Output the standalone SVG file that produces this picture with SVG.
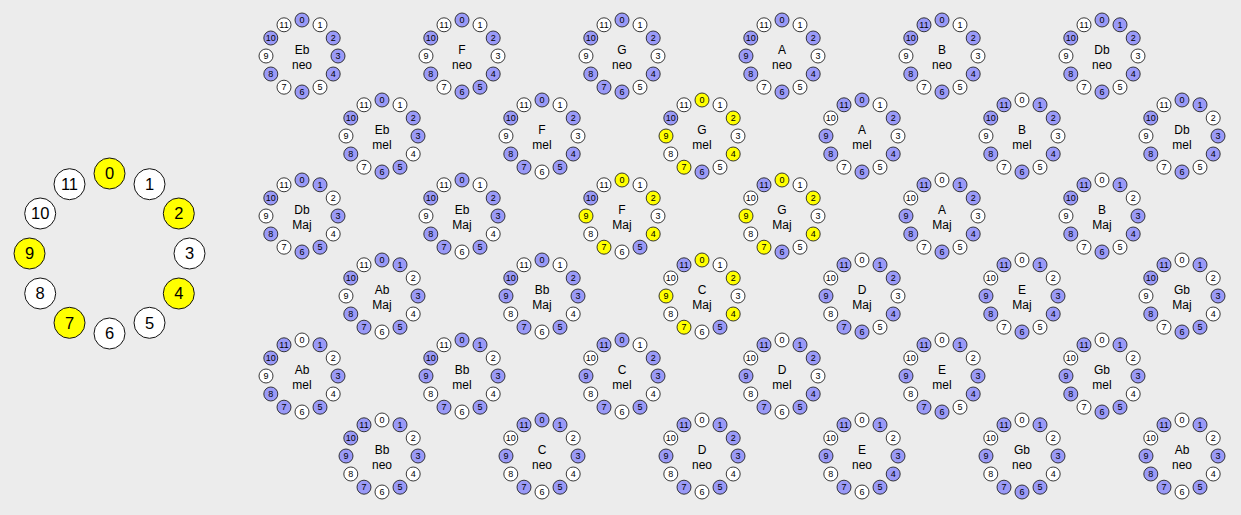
<svg xmlns="http://www.w3.org/2000/svg" xmlns:xlink="http://www.w3.org/1999/xlink" width="1241" height="515" viewBox="0 0 1241 515">
<style>
text{font-family:"Liberation Sans",Arial,sans-serif;text-anchor:middle;fill:#000}
.big circle{stroke:#111;stroke-width:1}
.big text{font-size:16.5px}
.c text{font-size:9px}
.c text.l{font-size:12px}
use{stroke:#222;stroke-width:0.9}
.b{fill:#9a9af8}.w{fill:#fff}.y{fill:#ffff00}
</style>
<defs>
<circle id="k0" cx="0" cy="-36" r="7"/>
<circle id="k1" cx="18" cy="-31.2" r="7"/>
<circle id="k2" cx="31.2" cy="-18" r="7"/>
<circle id="k3" cx="36" cy="0" r="7"/>
<circle id="k4" cx="31.2" cy="18" r="7"/>
<circle id="k5" cx="18" cy="31.2" r="7"/>
<circle id="k6" cx="0" cy="36" r="7"/>
<circle id="k7" cx="-18" cy="31.2" r="7"/>
<circle id="k8" cx="-31.2" cy="18" r="7"/>
<circle id="k9" cx="-36" cy="0" r="7"/>
<circle id="k10" cx="-31.2" cy="-18" r="7"/>
<circle id="k11" cx="-18" cy="-31.2" r="7"/>
</defs>
<rect width="1241" height="515" fill="#ececec"/>

<g id="pitch-circle" class="big">
<g id="pc0"><circle cx="109.5" cy="173.5" r="15.5" class="y"/><text x="109.5" y="179.4">0</text></g>
<g id="pc1"><circle cx="149.5" cy="184.2" r="15.5" class="w"/><text x="149.5" y="190.1">1</text></g>
<g id="pc2"><circle cx="178.8" cy="213.5" r="15.5" class="y"/><text x="178.8" y="219.4">2</text></g>
<g id="pc3"><circle cx="189.5" cy="253.5" r="15.5" class="w"/><text x="189.5" y="259.4">3</text></g>
<g id="pc4"><circle cx="178.8" cy="293.5" r="15.5" class="y"/><text x="178.8" y="299.4">4</text></g>
<g id="pc5"><circle cx="149.5" cy="322.8" r="15.5" class="w"/><text x="149.5" y="328.7">5</text></g>
<g id="pc6"><circle cx="109.5" cy="333.5" r="15.5" class="w"/><text x="109.5" y="339.4">6</text></g>
<g id="pc7"><circle cx="69.5" cy="322.8" r="15.5" class="y"/><text x="69.5" y="328.7">7</text></g>
<g id="pc8"><circle cx="40.2" cy="293.5" r="15.5" class="w"/><text x="40.2" y="299.4">8</text></g>
<g id="pc9"><circle cx="29.5" cy="253.5" r="15.5" class="y"/><text x="29.5" y="259.4">9</text></g>
<g id="pc10"><circle cx="40.2" cy="213.5" r="15.5" class="w"/><text x="40.2" y="219.4">10</text></g>
<g id="pc11"><circle cx="69.5" cy="184.2" r="15.5" class="w"/><text x="69.5" y="190.1">11</text></g>
</g>

<g id="eb-neo" class="c" transform="translate(302,56)"><use href="#k0" class="b"/><use href="#k1" class="w"/><use href="#k2" class="b"/><use href="#k3" class="b"/><use href="#k4" class="b"/><use href="#k5" class="w"/><use href="#k6" class="b"/><use href="#k7" class="w"/><use href="#k8" class="b"/><use href="#k9" class="w"/><use href="#k10" class="b"/><use href="#k11" class="w"/><text x="0" y="-33">0</text><text x="18" y="-28.2">1</text><text x="31.2" y="-15">2</text><text x="36" y="3">3</text><text x="31.2" y="21">4</text><text x="18" y="34.2">5</text><text x="0" y="39">6</text><text x="-18" y="34.2">7</text><text x="-31.2" y="21">8</text><text x="-36" y="3">9</text><text x="-31.2" y="-15">10</text><text x="-18" y="-28.2">11</text><text class="l" x="0" y="-2">Eb</text><text class="l" x="0" y="13">neo</text></g>
<g id="f-neo" class="c" transform="translate(462,56)"><use href="#k0" class="b"/><use href="#k1" class="w"/><use href="#k2" class="b"/><use href="#k3" class="w"/><use href="#k4" class="b"/><use href="#k5" class="b"/><use href="#k6" class="b"/><use href="#k7" class="w"/><use href="#k8" class="b"/><use href="#k9" class="w"/><use href="#k10" class="b"/><use href="#k11" class="w"/><text x="0" y="-33">0</text><text x="18" y="-28.2">1</text><text x="31.2" y="-15">2</text><text x="36" y="3">3</text><text x="31.2" y="21">4</text><text x="18" y="34.2">5</text><text x="0" y="39">6</text><text x="-18" y="34.2">7</text><text x="-31.2" y="21">8</text><text x="-36" y="3">9</text><text x="-31.2" y="-15">10</text><text x="-18" y="-28.2">11</text><text class="l" x="0" y="-2">F</text><text class="l" x="0" y="13">neo</text></g>
<g id="g-neo" class="c" transform="translate(622,56)"><use href="#k0" class="b"/><use href="#k1" class="w"/><use href="#k2" class="b"/><use href="#k3" class="w"/><use href="#k4" class="b"/><use href="#k5" class="w"/><use href="#k6" class="b"/><use href="#k7" class="b"/><use href="#k8" class="b"/><use href="#k9" class="w"/><use href="#k10" class="b"/><use href="#k11" class="w"/><text x="0" y="-33">0</text><text x="18" y="-28.2">1</text><text x="31.2" y="-15">2</text><text x="36" y="3">3</text><text x="31.2" y="21">4</text><text x="18" y="34.2">5</text><text x="0" y="39">6</text><text x="-18" y="34.2">7</text><text x="-31.2" y="21">8</text><text x="-36" y="3">9</text><text x="-31.2" y="-15">10</text><text x="-18" y="-28.2">11</text><text class="l" x="0" y="-2">G</text><text class="l" x="0" y="13">neo</text></g>
<g id="a-neo" class="c" transform="translate(782,56)"><use href="#k0" class="b"/><use href="#k1" class="w"/><use href="#k2" class="b"/><use href="#k3" class="w"/><use href="#k4" class="b"/><use href="#k5" class="w"/><use href="#k6" class="b"/><use href="#k7" class="w"/><use href="#k8" class="b"/><use href="#k9" class="b"/><use href="#k10" class="b"/><use href="#k11" class="w"/><text x="0" y="-33">0</text><text x="18" y="-28.2">1</text><text x="31.2" y="-15">2</text><text x="36" y="3">3</text><text x="31.2" y="21">4</text><text x="18" y="34.2">5</text><text x="0" y="39">6</text><text x="-18" y="34.2">7</text><text x="-31.2" y="21">8</text><text x="-36" y="3">9</text><text x="-31.2" y="-15">10</text><text x="-18" y="-28.2">11</text><text class="l" x="0" y="-2">A</text><text class="l" x="0" y="13">neo</text></g>
<g id="b-neo" class="c" transform="translate(942,56)"><use href="#k0" class="b"/><use href="#k1" class="w"/><use href="#k2" class="b"/><use href="#k3" class="w"/><use href="#k4" class="b"/><use href="#k5" class="w"/><use href="#k6" class="b"/><use href="#k7" class="w"/><use href="#k8" class="b"/><use href="#k9" class="w"/><use href="#k10" class="b"/><use href="#k11" class="b"/><text x="0" y="-33">0</text><text x="18" y="-28.2">1</text><text x="31.2" y="-15">2</text><text x="36" y="3">3</text><text x="31.2" y="21">4</text><text x="18" y="34.2">5</text><text x="0" y="39">6</text><text x="-18" y="34.2">7</text><text x="-31.2" y="21">8</text><text x="-36" y="3">9</text><text x="-31.2" y="-15">10</text><text x="-18" y="-28.2">11</text><text class="l" x="0" y="-2">B</text><text class="l" x="0" y="13">neo</text></g>
<g id="db-neo" class="c" transform="translate(1102,56)"><use href="#k0" class="b"/><use href="#k1" class="b"/><use href="#k2" class="b"/><use href="#k3" class="w"/><use href="#k4" class="b"/><use href="#k5" class="w"/><use href="#k6" class="b"/><use href="#k7" class="w"/><use href="#k8" class="b"/><use href="#k9" class="w"/><use href="#k10" class="b"/><use href="#k11" class="w"/><text x="0" y="-33">0</text><text x="18" y="-28.2">1</text><text x="31.2" y="-15">2</text><text x="36" y="3">3</text><text x="31.2" y="21">4</text><text x="18" y="34.2">5</text><text x="0" y="39">6</text><text x="-18" y="34.2">7</text><text x="-31.2" y="21">8</text><text x="-36" y="3">9</text><text x="-31.2" y="-15">10</text><text x="-18" y="-28.2">11</text><text class="l" x="0" y="-2">Db</text><text class="l" x="0" y="13">neo</text></g>

<g id="eb-mel" class="c" transform="translate(382,136)"><use href="#k0" class="b"/><use href="#k1" class="w"/><use href="#k2" class="b"/><use href="#k3" class="b"/><use href="#k4" class="w"/><use href="#k5" class="b"/><use href="#k6" class="b"/><use href="#k7" class="w"/><use href="#k8" class="b"/><use href="#k9" class="w"/><use href="#k10" class="b"/><use href="#k11" class="w"/><text x="0" y="-33">0</text><text x="18" y="-28.2">1</text><text x="31.2" y="-15">2</text><text x="36" y="3">3</text><text x="31.2" y="21">4</text><text x="18" y="34.2">5</text><text x="0" y="39">6</text><text x="-18" y="34.2">7</text><text x="-31.2" y="21">8</text><text x="-36" y="3">9</text><text x="-31.2" y="-15">10</text><text x="-18" y="-28.2">11</text><text class="l" x="0" y="-2">Eb</text><text class="l" x="0" y="13">mel</text></g>
<g id="f-mel" class="c" transform="translate(542,136)"><use href="#k0" class="b"/><use href="#k1" class="w"/><use href="#k2" class="b"/><use href="#k3" class="w"/><use href="#k4" class="b"/><use href="#k5" class="b"/><use href="#k6" class="w"/><use href="#k7" class="b"/><use href="#k8" class="b"/><use href="#k9" class="w"/><use href="#k10" class="b"/><use href="#k11" class="w"/><text x="0" y="-33">0</text><text x="18" y="-28.2">1</text><text x="31.2" y="-15">2</text><text x="36" y="3">3</text><text x="31.2" y="21">4</text><text x="18" y="34.2">5</text><text x="0" y="39">6</text><text x="-18" y="34.2">7</text><text x="-31.2" y="21">8</text><text x="-36" y="3">9</text><text x="-31.2" y="-15">10</text><text x="-18" y="-28.2">11</text><text class="l" x="0" y="-2">F</text><text class="l" x="0" y="13">mel</text></g>
<g id="g-mel" class="c" transform="translate(702,136)"><use href="#k0" class="y"/><use href="#k1" class="w"/><use href="#k2" class="y"/><use href="#k3" class="w"/><use href="#k4" class="y"/><use href="#k5" class="w"/><use href="#k6" class="b"/><use href="#k7" class="y"/><use href="#k8" class="w"/><use href="#k9" class="y"/><use href="#k10" class="b"/><use href="#k11" class="w"/><text x="0" y="-33">0</text><text x="18" y="-28.2">1</text><text x="31.2" y="-15">2</text><text x="36" y="3">3</text><text x="31.2" y="21">4</text><text x="18" y="34.2">5</text><text x="0" y="39">6</text><text x="-18" y="34.2">7</text><text x="-31.2" y="21">8</text><text x="-36" y="3">9</text><text x="-31.2" y="-15">10</text><text x="-18" y="-28.2">11</text><text class="l" x="0" y="-2">G</text><text class="l" x="0" y="13">mel</text></g>
<g id="a-mel" class="c" transform="translate(862,136)"><use href="#k0" class="b"/><use href="#k1" class="w"/><use href="#k2" class="b"/><use href="#k3" class="w"/><use href="#k4" class="b"/><use href="#k5" class="w"/><use href="#k6" class="b"/><use href="#k7" class="w"/><use href="#k8" class="b"/><use href="#k9" class="b"/><use href="#k10" class="w"/><use href="#k11" class="b"/><text x="0" y="-33">0</text><text x="18" y="-28.2">1</text><text x="31.2" y="-15">2</text><text x="36" y="3">3</text><text x="31.2" y="21">4</text><text x="18" y="34.2">5</text><text x="0" y="39">6</text><text x="-18" y="34.2">7</text><text x="-31.2" y="21">8</text><text x="-36" y="3">9</text><text x="-31.2" y="-15">10</text><text x="-18" y="-28.2">11</text><text class="l" x="0" y="-2">A</text><text class="l" x="0" y="13">mel</text></g>
<g id="b-mel" class="c" transform="translate(1022,136)"><use href="#k0" class="w"/><use href="#k1" class="b"/><use href="#k2" class="b"/><use href="#k3" class="w"/><use href="#k4" class="b"/><use href="#k5" class="w"/><use href="#k6" class="b"/><use href="#k7" class="w"/><use href="#k8" class="b"/><use href="#k9" class="w"/><use href="#k10" class="b"/><use href="#k11" class="b"/><text x="0" y="-33">0</text><text x="18" y="-28.2">1</text><text x="31.2" y="-15">2</text><text x="36" y="3">3</text><text x="31.2" y="21">4</text><text x="18" y="34.2">5</text><text x="0" y="39">6</text><text x="-18" y="34.2">7</text><text x="-31.2" y="21">8</text><text x="-36" y="3">9</text><text x="-31.2" y="-15">10</text><text x="-18" y="-28.2">11</text><text class="l" x="0" y="-2">B</text><text class="l" x="0" y="13">mel</text></g>
<g id="db-mel" class="c" transform="translate(1182,136)"><use href="#k0" class="b"/><use href="#k1" class="b"/><use href="#k2" class="w"/><use href="#k3" class="b"/><use href="#k4" class="b"/><use href="#k5" class="w"/><use href="#k6" class="b"/><use href="#k7" class="w"/><use href="#k8" class="b"/><use href="#k9" class="w"/><use href="#k10" class="b"/><use href="#k11" class="w"/><text x="0" y="-33">0</text><text x="18" y="-28.2">1</text><text x="31.2" y="-15">2</text><text x="36" y="3">3</text><text x="31.2" y="21">4</text><text x="18" y="34.2">5</text><text x="0" y="39">6</text><text x="-18" y="34.2">7</text><text x="-31.2" y="21">8</text><text x="-36" y="3">9</text><text x="-31.2" y="-15">10</text><text x="-18" y="-28.2">11</text><text class="l" x="0" y="-2">Db</text><text class="l" x="0" y="13">mel</text></g>

<g id="db-maj" class="c" transform="translate(302,216)"><use href="#k0" class="b"/><use href="#k1" class="b"/><use href="#k2" class="w"/><use href="#k3" class="b"/><use href="#k4" class="w"/><use href="#k5" class="b"/><use href="#k6" class="b"/><use href="#k7" class="w"/><use href="#k8" class="b"/><use href="#k9" class="w"/><use href="#k10" class="b"/><use href="#k11" class="w"/><text x="0" y="-33">0</text><text x="18" y="-28.2">1</text><text x="31.2" y="-15">2</text><text x="36" y="3">3</text><text x="31.2" y="21">4</text><text x="18" y="34.2">5</text><text x="0" y="39">6</text><text x="-18" y="34.2">7</text><text x="-31.2" y="21">8</text><text x="-36" y="3">9</text><text x="-31.2" y="-15">10</text><text x="-18" y="-28.2">11</text><text class="l" x="0" y="-2">Db</text><text class="l" x="0" y="13">Maj</text></g>
<g id="eb-maj" class="c" transform="translate(462,216)"><use href="#k0" class="b"/><use href="#k1" class="w"/><use href="#k2" class="b"/><use href="#k3" class="b"/><use href="#k4" class="w"/><use href="#k5" class="b"/><use href="#k6" class="w"/><use href="#k7" class="b"/><use href="#k8" class="b"/><use href="#k9" class="w"/><use href="#k10" class="b"/><use href="#k11" class="w"/><text x="0" y="-33">0</text><text x="18" y="-28.2">1</text><text x="31.2" y="-15">2</text><text x="36" y="3">3</text><text x="31.2" y="21">4</text><text x="18" y="34.2">5</text><text x="0" y="39">6</text><text x="-18" y="34.2">7</text><text x="-31.2" y="21">8</text><text x="-36" y="3">9</text><text x="-31.2" y="-15">10</text><text x="-18" y="-28.2">11</text><text class="l" x="0" y="-2">Eb</text><text class="l" x="0" y="13">Maj</text></g>
<g id="f-maj" class="c" transform="translate(622,216)"><use href="#k0" class="y"/><use href="#k1" class="w"/><use href="#k2" class="y"/><use href="#k3" class="w"/><use href="#k4" class="y"/><use href="#k5" class="b"/><use href="#k6" class="w"/><use href="#k7" class="y"/><use href="#k8" class="w"/><use href="#k9" class="y"/><use href="#k10" class="b"/><use href="#k11" class="w"/><text x="0" y="-33">0</text><text x="18" y="-28.2">1</text><text x="31.2" y="-15">2</text><text x="36" y="3">3</text><text x="31.2" y="21">4</text><text x="18" y="34.2">5</text><text x="0" y="39">6</text><text x="-18" y="34.2">7</text><text x="-31.2" y="21">8</text><text x="-36" y="3">9</text><text x="-31.2" y="-15">10</text><text x="-18" y="-28.2">11</text><text class="l" x="0" y="-2">F</text><text class="l" x="0" y="13">Maj</text></g>
<g id="g-maj" class="c" transform="translate(782,216)"><use href="#k0" class="y"/><use href="#k1" class="w"/><use href="#k2" class="y"/><use href="#k3" class="w"/><use href="#k4" class="y"/><use href="#k5" class="w"/><use href="#k6" class="b"/><use href="#k7" class="y"/><use href="#k8" class="w"/><use href="#k9" class="y"/><use href="#k10" class="w"/><use href="#k11" class="b"/><text x="0" y="-33">0</text><text x="18" y="-28.2">1</text><text x="31.2" y="-15">2</text><text x="36" y="3">3</text><text x="31.2" y="21">4</text><text x="18" y="34.2">5</text><text x="0" y="39">6</text><text x="-18" y="34.2">7</text><text x="-31.2" y="21">8</text><text x="-36" y="3">9</text><text x="-31.2" y="-15">10</text><text x="-18" y="-28.2">11</text><text class="l" x="0" y="-2">G</text><text class="l" x="0" y="13">Maj</text></g>
<g id="a-maj" class="c" transform="translate(942,216)"><use href="#k0" class="w"/><use href="#k1" class="b"/><use href="#k2" class="b"/><use href="#k3" class="w"/><use href="#k4" class="b"/><use href="#k5" class="w"/><use href="#k6" class="b"/><use href="#k7" class="w"/><use href="#k8" class="b"/><use href="#k9" class="b"/><use href="#k10" class="w"/><use href="#k11" class="b"/><text x="0" y="-33">0</text><text x="18" y="-28.2">1</text><text x="31.2" y="-15">2</text><text x="36" y="3">3</text><text x="31.2" y="21">4</text><text x="18" y="34.2">5</text><text x="0" y="39">6</text><text x="-18" y="34.2">7</text><text x="-31.2" y="21">8</text><text x="-36" y="3">9</text><text x="-31.2" y="-15">10</text><text x="-18" y="-28.2">11</text><text class="l" x="0" y="-2">A</text><text class="l" x="0" y="13">Maj</text></g>
<g id="b-maj" class="c" transform="translate(1102,216)"><use href="#k0" class="w"/><use href="#k1" class="b"/><use href="#k2" class="w"/><use href="#k3" class="b"/><use href="#k4" class="b"/><use href="#k5" class="w"/><use href="#k6" class="b"/><use href="#k7" class="w"/><use href="#k8" class="b"/><use href="#k9" class="w"/><use href="#k10" class="b"/><use href="#k11" class="b"/><text x="0" y="-33">0</text><text x="18" y="-28.2">1</text><text x="31.2" y="-15">2</text><text x="36" y="3">3</text><text x="31.2" y="21">4</text><text x="18" y="34.2">5</text><text x="0" y="39">6</text><text x="-18" y="34.2">7</text><text x="-31.2" y="21">8</text><text x="-36" y="3">9</text><text x="-31.2" y="-15">10</text><text x="-18" y="-28.2">11</text><text class="l" x="0" y="-2">B</text><text class="l" x="0" y="13">Maj</text></g>

<g id="ab-maj" class="c" transform="translate(382,296)"><use href="#k0" class="b"/><use href="#k1" class="b"/><use href="#k2" class="w"/><use href="#k3" class="b"/><use href="#k4" class="w"/><use href="#k5" class="b"/><use href="#k6" class="w"/><use href="#k7" class="b"/><use href="#k8" class="b"/><use href="#k9" class="w"/><use href="#k10" class="b"/><use href="#k11" class="w"/><text x="0" y="-33">0</text><text x="18" y="-28.2">1</text><text x="31.2" y="-15">2</text><text x="36" y="3">3</text><text x="31.2" y="21">4</text><text x="18" y="34.2">5</text><text x="0" y="39">6</text><text x="-18" y="34.2">7</text><text x="-31.2" y="21">8</text><text x="-36" y="3">9</text><text x="-31.2" y="-15">10</text><text x="-18" y="-28.2">11</text><text class="l" x="0" y="-2">Ab</text><text class="l" x="0" y="13">Maj</text></g>
<g id="bb-maj" class="c" transform="translate(542,296)"><use href="#k0" class="b"/><use href="#k1" class="w"/><use href="#k2" class="b"/><use href="#k3" class="b"/><use href="#k4" class="w"/><use href="#k5" class="b"/><use href="#k6" class="w"/><use href="#k7" class="b"/><use href="#k8" class="w"/><use href="#k9" class="b"/><use href="#k10" class="b"/><use href="#k11" class="w"/><text x="0" y="-33">0</text><text x="18" y="-28.2">1</text><text x="31.2" y="-15">2</text><text x="36" y="3">3</text><text x="31.2" y="21">4</text><text x="18" y="34.2">5</text><text x="0" y="39">6</text><text x="-18" y="34.2">7</text><text x="-31.2" y="21">8</text><text x="-36" y="3">9</text><text x="-31.2" y="-15">10</text><text x="-18" y="-28.2">11</text><text class="l" x="0" y="-2">Bb</text><text class="l" x="0" y="13">Maj</text></g>
<g id="c-maj" class="c" transform="translate(702,296)"><use href="#k0" class="y"/><use href="#k1" class="w"/><use href="#k2" class="y"/><use href="#k3" class="w"/><use href="#k4" class="y"/><use href="#k5" class="b"/><use href="#k6" class="w"/><use href="#k7" class="y"/><use href="#k8" class="w"/><use href="#k9" class="y"/><use href="#k10" class="w"/><use href="#k11" class="b"/><text x="0" y="-33">0</text><text x="18" y="-28.2">1</text><text x="31.2" y="-15">2</text><text x="36" y="3">3</text><text x="31.2" y="21">4</text><text x="18" y="34.2">5</text><text x="0" y="39">6</text><text x="-18" y="34.2">7</text><text x="-31.2" y="21">8</text><text x="-36" y="3">9</text><text x="-31.2" y="-15">10</text><text x="-18" y="-28.2">11</text><text class="l" x="0" y="-2">C</text><text class="l" x="0" y="13">Maj</text></g>
<g id="d-maj" class="c" transform="translate(862,296)"><use href="#k0" class="w"/><use href="#k1" class="b"/><use href="#k2" class="b"/><use href="#k3" class="w"/><use href="#k4" class="b"/><use href="#k5" class="w"/><use href="#k6" class="b"/><use href="#k7" class="b"/><use href="#k8" class="w"/><use href="#k9" class="b"/><use href="#k10" class="w"/><use href="#k11" class="b"/><text x="0" y="-33">0</text><text x="18" y="-28.2">1</text><text x="31.2" y="-15">2</text><text x="36" y="3">3</text><text x="31.2" y="21">4</text><text x="18" y="34.2">5</text><text x="0" y="39">6</text><text x="-18" y="34.2">7</text><text x="-31.2" y="21">8</text><text x="-36" y="3">9</text><text x="-31.2" y="-15">10</text><text x="-18" y="-28.2">11</text><text class="l" x="0" y="-2">D</text><text class="l" x="0" y="13">Maj</text></g>
<g id="e-maj" class="c" transform="translate(1022,296)"><use href="#k0" class="w"/><use href="#k1" class="b"/><use href="#k2" class="w"/><use href="#k3" class="b"/><use href="#k4" class="b"/><use href="#k5" class="w"/><use href="#k6" class="b"/><use href="#k7" class="w"/><use href="#k8" class="b"/><use href="#k9" class="b"/><use href="#k10" class="w"/><use href="#k11" class="b"/><text x="0" y="-33">0</text><text x="18" y="-28.2">1</text><text x="31.2" y="-15">2</text><text x="36" y="3">3</text><text x="31.2" y="21">4</text><text x="18" y="34.2">5</text><text x="0" y="39">6</text><text x="-18" y="34.2">7</text><text x="-31.2" y="21">8</text><text x="-36" y="3">9</text><text x="-31.2" y="-15">10</text><text x="-18" y="-28.2">11</text><text class="l" x="0" y="-2">E</text><text class="l" x="0" y="13">Maj</text></g>
<g id="gb-maj" class="c" transform="translate(1182,296)"><use href="#k0" class="w"/><use href="#k1" class="b"/><use href="#k2" class="w"/><use href="#k3" class="b"/><use href="#k4" class="w"/><use href="#k5" class="b"/><use href="#k6" class="b"/><use href="#k7" class="w"/><use href="#k8" class="b"/><use href="#k9" class="w"/><use href="#k10" class="b"/><use href="#k11" class="b"/><text x="0" y="-33">0</text><text x="18" y="-28.2">1</text><text x="31.2" y="-15">2</text><text x="36" y="3">3</text><text x="31.2" y="21">4</text><text x="18" y="34.2">5</text><text x="0" y="39">6</text><text x="-18" y="34.2">7</text><text x="-31.2" y="21">8</text><text x="-36" y="3">9</text><text x="-31.2" y="-15">10</text><text x="-18" y="-28.2">11</text><text class="l" x="0" y="-2">Gb</text><text class="l" x="0" y="13">Maj</text></g>

<g id="ab-mel" class="c" transform="translate(302,376)"><use href="#k0" class="w"/><use href="#k1" class="b"/><use href="#k2" class="w"/><use href="#k3" class="b"/><use href="#k4" class="w"/><use href="#k5" class="b"/><use href="#k6" class="w"/><use href="#k7" class="b"/><use href="#k8" class="b"/><use href="#k9" class="w"/><use href="#k10" class="b"/><use href="#k11" class="b"/><text x="0" y="-33">0</text><text x="18" y="-28.2">1</text><text x="31.2" y="-15">2</text><text x="36" y="3">3</text><text x="31.2" y="21">4</text><text x="18" y="34.2">5</text><text x="0" y="39">6</text><text x="-18" y="34.2">7</text><text x="-31.2" y="21">8</text><text x="-36" y="3">9</text><text x="-31.2" y="-15">10</text><text x="-18" y="-28.2">11</text><text class="l" x="0" y="-2">Ab</text><text class="l" x="0" y="13">mel</text></g>
<g id="bb-mel" class="c" transform="translate(462,376)"><use href="#k0" class="b"/><use href="#k1" class="b"/><use href="#k2" class="w"/><use href="#k3" class="b"/><use href="#k4" class="w"/><use href="#k5" class="b"/><use href="#k6" class="w"/><use href="#k7" class="b"/><use href="#k8" class="w"/><use href="#k9" class="b"/><use href="#k10" class="b"/><use href="#k11" class="w"/><text x="0" y="-33">0</text><text x="18" y="-28.2">1</text><text x="31.2" y="-15">2</text><text x="36" y="3">3</text><text x="31.2" y="21">4</text><text x="18" y="34.2">5</text><text x="0" y="39">6</text><text x="-18" y="34.2">7</text><text x="-31.2" y="21">8</text><text x="-36" y="3">9</text><text x="-31.2" y="-15">10</text><text x="-18" y="-28.2">11</text><text class="l" x="0" y="-2">Bb</text><text class="l" x="0" y="13">mel</text></g>
<g id="c-mel" class="c" transform="translate(622,376)"><use href="#k0" class="b"/><use href="#k1" class="w"/><use href="#k2" class="b"/><use href="#k3" class="b"/><use href="#k4" class="w"/><use href="#k5" class="b"/><use href="#k6" class="w"/><use href="#k7" class="b"/><use href="#k8" class="w"/><use href="#k9" class="b"/><use href="#k10" class="w"/><use href="#k11" class="b"/><text x="0" y="-33">0</text><text x="18" y="-28.2">1</text><text x="31.2" y="-15">2</text><text x="36" y="3">3</text><text x="31.2" y="21">4</text><text x="18" y="34.2">5</text><text x="0" y="39">6</text><text x="-18" y="34.2">7</text><text x="-31.2" y="21">8</text><text x="-36" y="3">9</text><text x="-31.2" y="-15">10</text><text x="-18" y="-28.2">11</text><text class="l" x="0" y="-2">C</text><text class="l" x="0" y="13">mel</text></g>
<g id="d-mel" class="c" transform="translate(782,376)"><use href="#k0" class="w"/><use href="#k1" class="b"/><use href="#k2" class="b"/><use href="#k3" class="w"/><use href="#k4" class="b"/><use href="#k5" class="b"/><use href="#k6" class="w"/><use href="#k7" class="b"/><use href="#k8" class="w"/><use href="#k9" class="b"/><use href="#k10" class="w"/><use href="#k11" class="b"/><text x="0" y="-33">0</text><text x="18" y="-28.2">1</text><text x="31.2" y="-15">2</text><text x="36" y="3">3</text><text x="31.2" y="21">4</text><text x="18" y="34.2">5</text><text x="0" y="39">6</text><text x="-18" y="34.2">7</text><text x="-31.2" y="21">8</text><text x="-36" y="3">9</text><text x="-31.2" y="-15">10</text><text x="-18" y="-28.2">11</text><text class="l" x="0" y="-2">D</text><text class="l" x="0" y="13">mel</text></g>
<g id="e-mel" class="c" transform="translate(942,376)"><use href="#k0" class="w"/><use href="#k1" class="b"/><use href="#k2" class="w"/><use href="#k3" class="b"/><use href="#k4" class="b"/><use href="#k5" class="w"/><use href="#k6" class="b"/><use href="#k7" class="b"/><use href="#k8" class="w"/><use href="#k9" class="b"/><use href="#k10" class="w"/><use href="#k11" class="b"/><text x="0" y="-33">0</text><text x="18" y="-28.2">1</text><text x="31.2" y="-15">2</text><text x="36" y="3">3</text><text x="31.2" y="21">4</text><text x="18" y="34.2">5</text><text x="0" y="39">6</text><text x="-18" y="34.2">7</text><text x="-31.2" y="21">8</text><text x="-36" y="3">9</text><text x="-31.2" y="-15">10</text><text x="-18" y="-28.2">11</text><text class="l" x="0" y="-2">E</text><text class="l" x="0" y="13">mel</text></g>
<g id="gb-mel" class="c" transform="translate(1102,376)"><use href="#k0" class="w"/><use href="#k1" class="b"/><use href="#k2" class="w"/><use href="#k3" class="b"/><use href="#k4" class="w"/><use href="#k5" class="b"/><use href="#k6" class="b"/><use href="#k7" class="w"/><use href="#k8" class="b"/><use href="#k9" class="b"/><use href="#k10" class="w"/><use href="#k11" class="b"/><text x="0" y="-33">0</text><text x="18" y="-28.2">1</text><text x="31.2" y="-15">2</text><text x="36" y="3">3</text><text x="31.2" y="21">4</text><text x="18" y="34.2">5</text><text x="0" y="39">6</text><text x="-18" y="34.2">7</text><text x="-31.2" y="21">8</text><text x="-36" y="3">9</text><text x="-31.2" y="-15">10</text><text x="-18" y="-28.2">11</text><text class="l" x="0" y="-2">Gb</text><text class="l" x="0" y="13">mel</text></g>

<g id="bb-neo" class="c" transform="translate(382,456)"><use href="#k0" class="w"/><use href="#k1" class="b"/><use href="#k2" class="w"/><use href="#k3" class="b"/><use href="#k4" class="w"/><use href="#k5" class="b"/><use href="#k6" class="w"/><use href="#k7" class="b"/><use href="#k8" class="w"/><use href="#k9" class="b"/><use href="#k10" class="b"/><use href="#k11" class="b"/><text x="0" y="-33">0</text><text x="18" y="-28.2">1</text><text x="31.2" y="-15">2</text><text x="36" y="3">3</text><text x="31.2" y="21">4</text><text x="18" y="34.2">5</text><text x="0" y="39">6</text><text x="-18" y="34.2">7</text><text x="-31.2" y="21">8</text><text x="-36" y="3">9</text><text x="-31.2" y="-15">10</text><text x="-18" y="-28.2">11</text><text class="l" x="0" y="-2">Bb</text><text class="l" x="0" y="13">neo</text></g>
<g id="c-neo" class="c" transform="translate(542,456)"><use href="#k0" class="b"/><use href="#k1" class="b"/><use href="#k2" class="w"/><use href="#k3" class="b"/><use href="#k4" class="w"/><use href="#k5" class="b"/><use href="#k6" class="w"/><use href="#k7" class="b"/><use href="#k8" class="w"/><use href="#k9" class="b"/><use href="#k10" class="w"/><use href="#k11" class="b"/><text x="0" y="-33">0</text><text x="18" y="-28.2">1</text><text x="31.2" y="-15">2</text><text x="36" y="3">3</text><text x="31.2" y="21">4</text><text x="18" y="34.2">5</text><text x="0" y="39">6</text><text x="-18" y="34.2">7</text><text x="-31.2" y="21">8</text><text x="-36" y="3">9</text><text x="-31.2" y="-15">10</text><text x="-18" y="-28.2">11</text><text class="l" x="0" y="-2">C</text><text class="l" x="0" y="13">neo</text></g>
<g id="d-neo" class="c" transform="translate(702,456)"><use href="#k0" class="w"/><use href="#k1" class="b"/><use href="#k2" class="b"/><use href="#k3" class="b"/><use href="#k4" class="w"/><use href="#k5" class="b"/><use href="#k6" class="w"/><use href="#k7" class="b"/><use href="#k8" class="w"/><use href="#k9" class="b"/><use href="#k10" class="w"/><use href="#k11" class="b"/><text x="0" y="-33">0</text><text x="18" y="-28.2">1</text><text x="31.2" y="-15">2</text><text x="36" y="3">3</text><text x="31.2" y="21">4</text><text x="18" y="34.2">5</text><text x="0" y="39">6</text><text x="-18" y="34.2">7</text><text x="-31.2" y="21">8</text><text x="-36" y="3">9</text><text x="-31.2" y="-15">10</text><text x="-18" y="-28.2">11</text><text class="l" x="0" y="-2">D</text><text class="l" x="0" y="13">neo</text></g>
<g id="e-neo" class="c" transform="translate(862,456)"><use href="#k0" class="w"/><use href="#k1" class="b"/><use href="#k2" class="w"/><use href="#k3" class="b"/><use href="#k4" class="b"/><use href="#k5" class="b"/><use href="#k6" class="w"/><use href="#k7" class="b"/><use href="#k8" class="w"/><use href="#k9" class="b"/><use href="#k10" class="w"/><use href="#k11" class="b"/><text x="0" y="-33">0</text><text x="18" y="-28.2">1</text><text x="31.2" y="-15">2</text><text x="36" y="3">3</text><text x="31.2" y="21">4</text><text x="18" y="34.2">5</text><text x="0" y="39">6</text><text x="-18" y="34.2">7</text><text x="-31.2" y="21">8</text><text x="-36" y="3">9</text><text x="-31.2" y="-15">10</text><text x="-18" y="-28.2">11</text><text class="l" x="0" y="-2">E</text><text class="l" x="0" y="13">neo</text></g>
<g id="gb-neo" class="c" transform="translate(1022,456)"><use href="#k0" class="w"/><use href="#k1" class="b"/><use href="#k2" class="w"/><use href="#k3" class="b"/><use href="#k4" class="w"/><use href="#k5" class="b"/><use href="#k6" class="b"/><use href="#k7" class="b"/><use href="#k8" class="w"/><use href="#k9" class="b"/><use href="#k10" class="w"/><use href="#k11" class="b"/><text x="0" y="-33">0</text><text x="18" y="-28.2">1</text><text x="31.2" y="-15">2</text><text x="36" y="3">3</text><text x="31.2" y="21">4</text><text x="18" y="34.2">5</text><text x="0" y="39">6</text><text x="-18" y="34.2">7</text><text x="-31.2" y="21">8</text><text x="-36" y="3">9</text><text x="-31.2" y="-15">10</text><text x="-18" y="-28.2">11</text><text class="l" x="0" y="-2">Gb</text><text class="l" x="0" y="13">neo</text></g>
<g id="ab-neo" class="c" transform="translate(1182,456)"><use href="#k0" class="w"/><use href="#k1" class="b"/><use href="#k2" class="w"/><use href="#k3" class="b"/><use href="#k4" class="w"/><use href="#k5" class="b"/><use href="#k6" class="w"/><use href="#k7" class="b"/><use href="#k8" class="b"/><use href="#k9" class="b"/><use href="#k10" class="w"/><use href="#k11" class="b"/><text x="0" y="-33">0</text><text x="18" y="-28.2">1</text><text x="31.2" y="-15">2</text><text x="36" y="3">3</text><text x="31.2" y="21">4</text><text x="18" y="34.2">5</text><text x="0" y="39">6</text><text x="-18" y="34.2">7</text><text x="-31.2" y="21">8</text><text x="-36" y="3">9</text><text x="-31.2" y="-15">10</text><text x="-18" y="-28.2">11</text><text class="l" x="0" y="-2">Ab</text><text class="l" x="0" y="13">neo</text></g>
</svg>
